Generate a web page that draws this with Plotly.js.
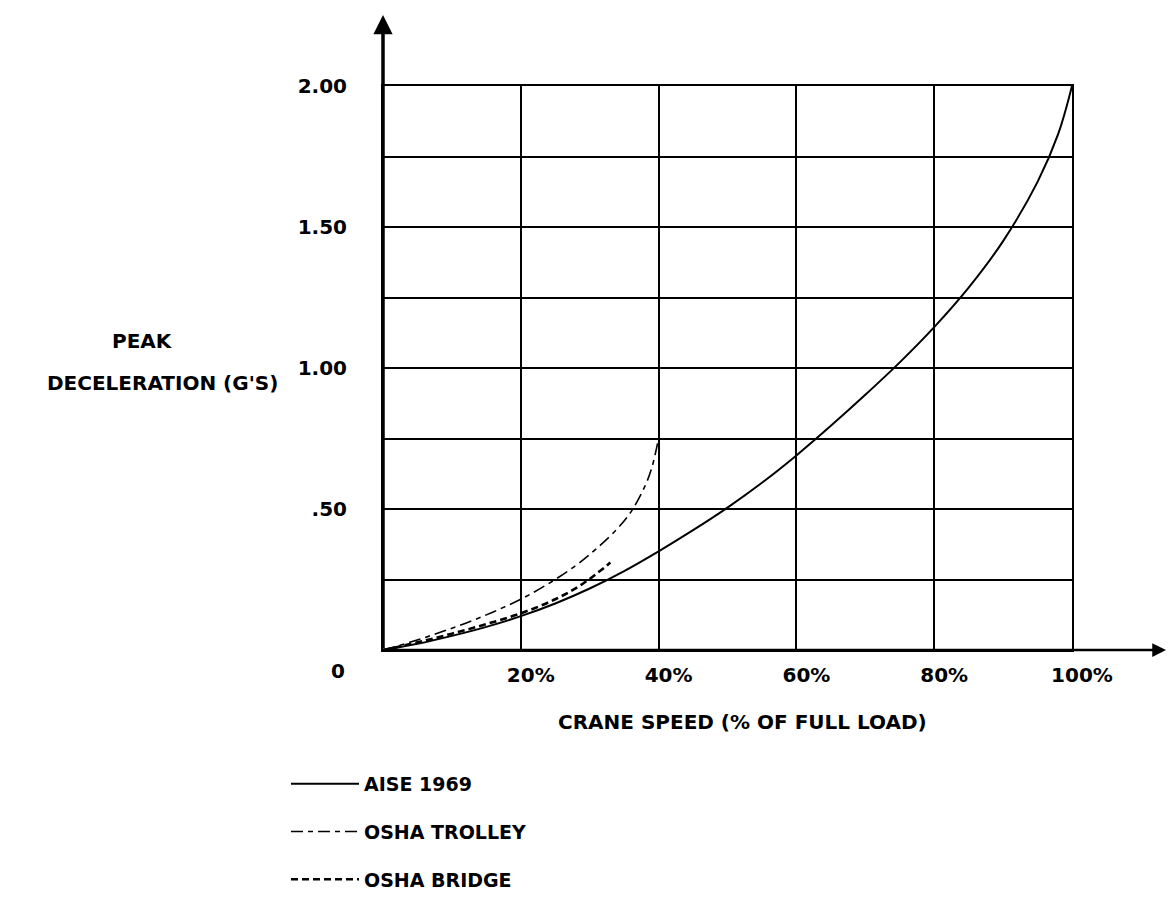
<!DOCTYPE html>
<html>
<head>
<meta charset="utf-8">
<script src="https://cdn.plot.ly/plotly-3.0.1.min.js"></script>
<style>
  html, body { margin: 0; padding: 0; background: #ffffff; }
  #chart { width: 1169px; height: 897px; }
</style>
</head>
<body>
<div id="chart"></div>
<script>
// ---- Data ----
const seriesNames = ["AISE 1969", "OSHA TROLLEY", "OSHA BRIDGE"];

// AISE 1969 (solid)
const aiseSpeed = [0, 5, 10, 15, 20, 25, 30, 35, 40, 45, 50, 55, 60, 65, 70, 75, 80, 85, 90, 95, 98, 100];
const aiseDecel = [0, 0.022, 0.05, 0.082, 0.12, 0.165, 0.218, 0.28, 0.35, 0.425, 0.505, 0.593, 0.69, 0.795, 0.905, 1.02, 1.145, 1.285, 1.45, 1.66, 1.83, 2.00];

// OSHA TROLLEY (thin long dash)
const trolleySpeed = [0, 4, 8, 12, 16, 20, 24, 28, 31, 34, 36, 38, 39, 40];
const trolleyDecel = [0, 0.028, 0.06, 0.095, 0.135, 0.18, 0.235, 0.30, 0.36, 0.43, 0.49, 0.58, 0.645, 0.75];

// OSHA BRIDGE (short dash)
const bridgeSpeed = [0, 5, 10, 15, 20, 25, 29, 33];
const bridgeDecel = [0, 0.027, 0.058, 0.092, 0.13, 0.18, 0.235, 0.31];

// Tick labels
const xTickVals = [20, 40, 60, 80, 100];
const xTickText = ["20%", "40%", "60%", "80%", "100%"];
const yTickVals = [0.25, 0.5, 0.75, 1.0, 1.25, 1.5, 1.75, 2.0];
const yTickText = ["", ".50", "", "1.00", "", "1.50", "", "2.00"];

const xTitle = "CRANE SPEED (% OF FULL LOAD)";
const yTitleLine1 = "PEAK";
const yTitleLine2 = "DECELERATION (G'S)";
const originLabel = "0";

// ---- Chart ----
const FONT = "DejaVu Sans, Liberation Sans, Arial, sans-serif";
const ink = "#000000";

const traces = [
  {
    x: aiseSpeed, y: aiseDecel, name: seriesNames[0], type: "scatter", mode: "lines",
    line: { color: ink, width: 2, shape: "spline", smoothing: 1 },
    legendgroup: "a", cliponaxis: false
  },
  {
    x: trolleySpeed, y: trolleyDecel, name: seriesNames[1], type: "scatter", mode: "lines",
    line: { color: ink, width: 1.6, dash: "12px,5px,5px,5px", shape: "spline", smoothing: 1 },
    legendgroup: "b", cliponaxis: false
  },
  {
    x: bridgeSpeed, y: bridgeDecel, name: seriesNames[2], type: "scatter", mode: "lines",
    line: { color: ink, width: 2.6, dash: "7px,4px", shape: "spline", smoothing: 1 },
    legendgroup: "c", cliponaxis: false
  }
];

const L = 383, R = 1169 - 1072, T = 86, B = 897 - 650;
const plotW = 1169 - L - R, plotH = 897 - T - B;
const FS = 20;

const layout = {
  width: 1169, height: 897,
  margin: { l: L, r: R, t: T, b: B, pad: 0, autoexpand: false },
  paper_bgcolor: "#ffffff", plot_bgcolor: "#ffffff",
  font: { family: FONT, color: ink, size: FS, weight: "bold" },
  showlegend: true,
  legend: {
    x: (286 - L) / plotW, y: (650 - 765) / plotH,
    xanchor: "left", yanchor: "top",
    bgcolor: "rgba(0,0,0,0)", borderwidth: 0,
    font: { family: FONT, size: 19, color: ink, weight: "bold" },
    itemwidth: 68, tracegroupgap: 20, traceorder: "grouped"
  },
  xaxis: {
    range: [0, 100], fixedrange: true, automargin: false,
    tickmode: "array", tickvals: xTickVals, ticktext: xTickText,
    ticks: "", ticklabelshift: 10, ticklabelstandoff: 6,
    tickfont: { family: FONT, size: FS, color: ink, weight: "bold" },
    showgrid: true, gridcolor: ink, gridwidth: 2,
    showline: true, linecolor: ink, linewidth: 2, mirror: true,
    zeroline: false
  },
  yaxis: {
    range: [0, 2], fixedrange: true, automargin: false,
    tickmode: "array", tickvals: yTickVals, ticktext: yTickText,
    ticks: "", ticklabelstandoff: 30,
    tickfont: { family: FONT, size: FS, color: ink, weight: "bold" },
    showgrid: true, gridcolor: ink, gridwidth: 2,
    showline: true, linecolor: ink, linewidth: 2, mirror: true,
    zeroline: false
  },
  annotations: [
    // Y axis arrow (extends above the grid)
    { xref: "paper", yref: "paper", x: 0, y: (650 - 15) / plotH, text: "",
      showarrow: true, arrowhead: 2, arrowsize: 1.1, arrowwidth: 3.5, arrowcolor: ink,
      ax: 0, ay: 635, standoff: 0, startstandoff: 0 },
    // X axis arrow (extends right of the grid)
    { xref: "paper", yref: "paper", x: (1166 - L) / plotW, y: 0, text: "",
      showarrow: true, arrowhead: 2, arrowsize: 1.1, arrowwidth: 2.5, arrowcolor: ink,
      ax: -(1166 - L), ay: 0, standoff: 0, startstandoff: 0 },
    // origin label
    { xref: "paper", yref: "paper", x: (338 - L) / plotW, y: (650 - 671) / plotH,
      text: originLabel, showarrow: false, xanchor: "center", yanchor: "middle",
      font: { family: FONT, size: FS, color: ink, weight: "bold" } },
    // x title
    { xref: "paper", yref: "paper", x: (742 - L) / plotW, y: (650 - 722) / plotH,
      text: xTitle, showarrow: false, xanchor: "center", yanchor: "middle",
      font: { family: FONT, size: FS, color: ink, weight: "bold" } },
    // y title, two lines
    { xref: "paper", yref: "paper", x: (142 - L) / plotW, y: (650 - 341) / plotH,
      text: yTitleLine1, showarrow: false, xanchor: "center", yanchor: "middle",
      font: { family: FONT, size: FS, color: ink, weight: "bold" } },
    { xref: "paper", yref: "paper", x: (162 - L) / plotW, y: (650 - 383) / plotH,
      text: yTitleLine2, showarrow: false, xanchor: "center", yanchor: "middle",
      font: { family: FONT, size: FS, color: ink, weight: "bold" } }
  ]
};

Plotly.newPlot("chart", traces, layout, { staticPlot: true, displayModeBar: false });
</script>
</body>
</html>
